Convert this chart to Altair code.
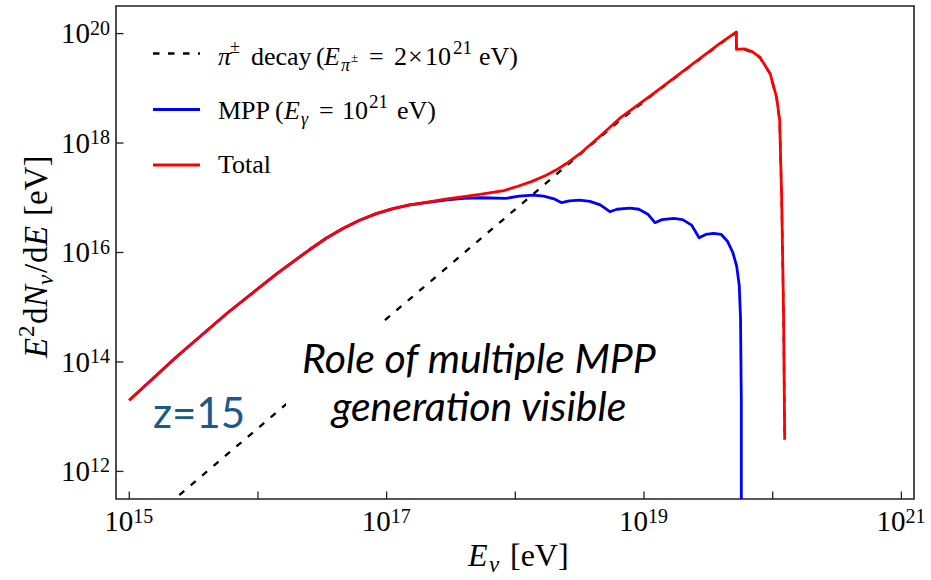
import altair as alt
import pandas as pd

# ---------------- data (log10 values) ----------------
total_logE = [15.00, 15.37, 15.76, 16.15, 16.40, 16.53, 16.66, 16.79, 16.92, 17.05, 17.18, 17.34,
              17.47, 17.60, 17.75, 17.91, 18.02, 18.13, 18.24, 18.32, 18.40, 18.52, 18.66, 18.81,
              19.07, 19.33, 19.59, 19.718, 19.718, 19.78, 19.84, 19.90, 19.98, 20.03, 20.054,
              20.07, 20.085, 20.093]
total_logF = [13.30, 14.10, 14.89, 15.62, 16.05, 16.26, 16.44, 16.59, 16.71, 16.80, 16.87, 16.93,
              16.98, 17.02, 17.07, 17.13, 17.21, 17.30, 17.41, 17.51, 17.63, 17.84, 18.13, 18.45,
              18.90, 19.36, 19.82, 20.03, 19.71, 19.72, 19.67, 19.57, 19.27, 18.84, 18.42,
              16.96, 14.77, 12.58]

mpp_logE = [15.00, 15.37, 15.76, 16.15, 16.40, 16.53, 16.66, 16.79, 16.92, 17.05, 17.18, 17.34,
            17.47, 17.60, 17.73, 17.93, 18.03, 18.14, 18.22, 18.30, 18.36,
            18.42, 18.50, 18.58, 18.66, 18.735,
            18.79, 18.89, 18.96, 19.03, 19.085,
            19.14, 19.23, 19.30, 19.37, 19.428,
            19.48, 19.54, 19.60, 19.65, 19.69, 19.72, 19.74, 19.75, 19.756, 19.756]
mpp_logF = [13.30, 14.10, 14.89, 15.62, 16.05, 16.26, 16.44, 16.59, 16.71, 16.80, 16.87, 16.92,
            16.96, 16.99, 17.00, 16.99, 17.03, 17.05, 17.03, 16.98, 16.91,
            16.945, 16.956, 16.935, 16.87, 16.745,
            16.79, 16.81, 16.79, 16.70, 16.545,
            16.60, 16.624, 16.60, 16.50, 16.27,
            16.33, 16.35, 16.33, 16.20, 16.00, 15.75, 15.40, 14.80, 13.30, 11.30]

pion_logE = [15.30, 18.50, 18.81, 19.07, 19.33, 19.59, 19.718, 19.718, 19.78, 19.84, 19.90,
             19.98, 20.03, 20.054, 20.07, 20.085, 20.093]
pion_logF = [11.39, 17.79, 18.41, 18.89, 19.35, 19.81, 20.02, 19.70, 19.71, 19.66, 19.56,
             19.26, 18.83, 18.41, 16.95, 14.76, 12.58]

x_tick_exp = [15, 16, 17, 18, 19, 20, 21]
x_label_exp = [15, 17, 19, 21]
y_tick_exp = [12, 14, 16, 18, 20]

x_domain_exp = [14.897, 21.098]
y_domain_exp = [11.496, 20.504]

# ---------------- layout ----------------
PAD_L, PAD_T, PAD_R, PAD_B = 116, 6, 17, 81
W, H = 931 - PAD_L - PAD_R, 580 - PAD_T - PAD_B
SERIF = "Liberation Serif"
SANS = "Lato"

xs = alt.Scale(type="log", domain=[10 ** x_domain_exp[0], 10 ** x_domain_exp[1]], nice=False)
ys = alt.Scale(type="log", domain=[10 ** y_domain_exp[0], 10 ** y_domain_exp[1]], nice=False)


def series(le, lf):
    return pd.DataFrame({"E": [10 ** v for v in le], "F": [10 ** v for v in lf], "i": list(range(len(le)))})


def line(df, **kw):
    return alt.Chart(df).mark_line(clip=True, strokeJoin="round", **kw).encode(
        x=alt.X("E:Q", scale=xs, axis=None),
        y=alt.Y("F:Q", scale=ys, axis=None),
        order="i:Q",
    )


one = pd.DataFrame({"a": [0]})


def txt(text, x, y, size=26, style="normal", align="left", angle=0, dx=0, dy=0,
        font=SERIF, color="black", weight="normal"):
    return alt.Chart(one).mark_text(
        text=text, align=align, baseline="alphabetic", fontSize=size, fontStyle=style,
        font=font, color=color, angle=angle, dx=dx, dy=dy, fontWeight=weight,
    ).encode(x=alt.value(x - PAD_L), y=alt.value(y - PAD_T))


layers = []

# curves
layers.append(line(series(pion_logE, pion_logF), color="black", strokeWidth=2.3, strokeDash=[6.5, 8.5]))
layers.append(line(series(mpp_logE, mpp_logF), color="#0000ff", strokeWidth=2.8))
layers.append(line(series(total_logE, total_logF), color="#ff0000", strokeWidth=2.8))

# white box behind annotation
layers.append(alt.Chart(one).mark_rect(color="white").encode(
    x=alt.value(286 - PAD_L), x2=alt.value(668 - PAD_L),
    y=alt.value(321 - PAD_T), y2=alt.value(446 - PAD_T)))

# annotations
layers.append(txt("Role of multiple MPP", 479, 373, size=41, style="italic", align="center", font=SANS))
layers.append(txt("generation visible", 479, 421, size=41, style="italic", align="center", font=SANS))
layers.append(txt("z=15", 153, 428, size=42, font=SANS, color="#1a5a8a"))

# inward ticks
xt = pd.DataFrame({"E": [10 ** v for v in x_tick_exp]})
layers.append(alt.Chart(xt).mark_rule(color="#222222", strokeWidth=1.3).encode(
    x=alt.X("E:Q", scale=xs, axis=None), y=alt.value(H), y2=alt.value(H - 7.5)))
yt = pd.DataFrame({"F": [10 ** v for v in y_tick_exp]})
layers.append(alt.Chart(yt).mark_rule(color="#222222", strokeWidth=1.3).encode(
    y=alt.Y("F:Q", scale=ys, axis=None), x=alt.value(0), x2=alt.value(7.5)))

# tick labels  10^n
xl = pd.DataFrame({"E": [10 ** v for v in x_label_exp], "exp": [str(v) for v in x_label_exp]})
layers.append(alt.Chart(xl).mark_text(align="right", baseline="alphabetic", fontSize=29, font=SERIF, dx=4).encode(
    x=alt.X("E:Q", scale=xs, axis=None), y=alt.value(531 - PAD_T), text=alt.value("10")))
layers.append(alt.Chart(xl).mark_text(align="left", baseline="alphabetic", fontSize=20, font=SERIF, dx=4).encode(
    x=alt.X("E:Q", scale=xs, axis=None), y=alt.value(522.5 - PAD_T), text="exp:N"))

yl = pd.DataFrame({"F": [10 ** v for v in y_tick_exp], "exp": [str(v) for v in y_tick_exp]})
layers.append(alt.Chart(yl).mark_text(align="right", baseline="alphabetic", fontSize=29, font=SERIF, dy=9.8).encode(
    y=alt.Y("F:Q", scale=ys, axis=None), x=alt.value(90 - PAD_L), text=alt.value("10")))
layers.append(alt.Chart(yl).mark_text(align="left", baseline="alphabetic", fontSize=20, font=SERIF, dy=1).encode(
    y=alt.Y("F:Q", scale=ys, axis=None), x=alt.value(90 - PAD_L), text="exp:N"))

# x title  E_nu [eV]
layers.append(txt("E", 468, 566, size=32, style="italic"))
layers.append(txt("ν", 489, 572, size=23, style="italic"))
layers.append(txt("[eV]", 510, 566, size=32))

# y title  E^2 dN_nu/dE [eV]  (rotated)
YX, YY = 47, 358
for t, off, perp, size, style in [
    ("E", 0, 0, 33, "italic"),
    ("2", 21, -13, 23, "normal"),
    ("d", 34, 0, 33, "normal"),
    ("N", 51, 0, 33, "italic"),
    ("ν", 73, 6, 23, "italic"),
    ("/", 85, 0, 33, "normal"),
    ("d", 95, 0, 33, "normal"),
    ("E", 112, 0, 33, "italic"),
    ("[eV]", 142, 0, 33, "normal"),
]:
    layers.append(txt(t, YX, YY, size=size, style=style, angle=270, dx=off, dy=perp))

# legend samples
layers.append(alt.Chart(one).mark_rule(color="black", strokeWidth=2.3, strokeDash=[6.5, 8.5]).encode(
    x=alt.value(153 - PAD_L), x2=alt.value(200 - PAD_L), y=alt.value(53.5 - PAD_T)))
layers.append(alt.Chart(one).mark_rule(color="#0000ff", strokeWidth=2.8).encode(
    x=alt.value(153 - PAD_L), x2=alt.value(200 - PAD_L), y=alt.value(109.5 - PAD_T)))
layers.append(alt.Chart(one).mark_rule(color="#ff0000", strokeWidth=2.8).encode(
    x=alt.value(153 - PAD_L), x2=alt.value(200 - PAD_L), y=alt.value(165 - PAD_T)))

# legend row 1: pi± decay (E_pi± = 2×10^21 eV)
layers += [
    txt("π", 218, 65, style="italic"),
    txt("±", 230, 53, size=18),
    txt("decay", 251, 65),
    txt("(", 316, 65),
    txt("E", 324, 65, style="italic"),
    txt("π", 341, 71, size=18, style="italic"),
    txt("±", 351, 62, size=13),
    txt("=", 369, 65),
    txt("2", 394, 65),
    txt("×", 408, 65),
    txt("10", 425, 65),
    txt("21", 453, 54, size=19),
    txt("eV)", 479, 65),
]
# legend row 2: MPP (E_gamma = 10^21 eV)
layers += [
    txt("MPP", 218, 119),
    txt("(", 275, 119),
    txt("E", 284, 119, style="italic"),
    txt("γ", 301, 125, size=18, style="italic"),
    txt("=", 319, 119),
    txt("10", 342, 119),
    txt("21", 369, 108, size=19),
    txt("eV)", 397, 119),
]
# legend row 3
layers.append(txt("Total", 218, 173))

chart = alt.layer(*layers).properties(
    width=W, height=H,
    padding={"left": PAD_L, "top": PAD_T, "right": PAD_R, "bottom": PAD_B},
    autosize=alt.AutoSizeParams(type="none"),
    background="white",
).configure_view(stroke="#222222", strokeWidth=1.6)

chart.save("out.html", embed_options={"renderer": "svg", "actions": False})
